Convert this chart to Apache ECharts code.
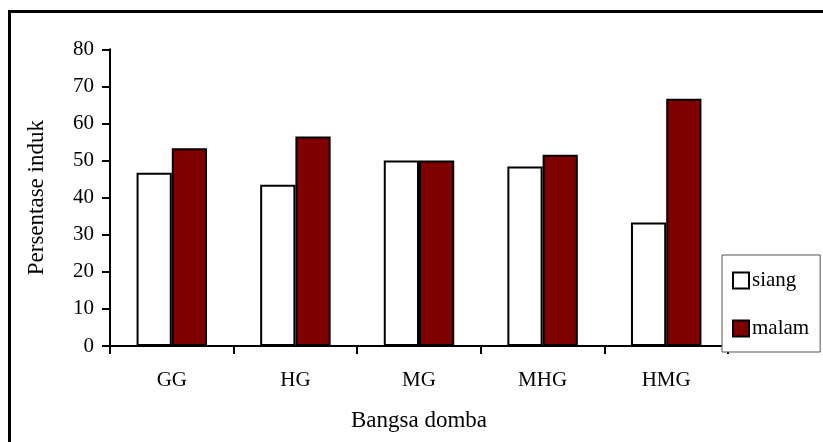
<!DOCTYPE html>
<html>
<head>
<meta charset="utf-8">
<script src="https://cdn.jsdelivr.net/npm/echarts@6/dist/echarts.min.js"></script>
<style>
  html, body { margin: 0; padding: 0; background: #fff; }
  #chart { width: 823px; height: 442px; }
</style>
</head>
<body>
<div id="chart"></div>
<script>
// Breeds on the x axis
const categories = ['GG', 'HG', 'MG', 'MHG', 'HMG'];
// Percentage of ewes, daytime vs night
const siang = [46.7, 43.5, 50.0, 48.4, 33.3];
const malam = [53.3, 56.5, 50.0, 51.6, 66.7];
const seriesNames = ['siang', 'malam'];

const FONT = '"Liberation Serif", "Times New Roman", serif';

const chart = echarts.init(document.getElementById('chart'), null, { renderer: 'canvas' });

chart.setOption({
  backgroundColor: '#ffffff',
  animation: false,
  textStyle: { fontFamily: FONT, color: '#000' },
  graphic: [{
    type: 'rect',
    shape: { x: 9.5, y: 11.5, width: 1200, height: 1200 },
    style: { fill: 'none', stroke: '#000', lineWidth: 3 },
    silent: true,
    z: 0
  }],
  grid: {
    left: 110, right: 95, top: 49.3, bottom: 96,
    containLabel: false,
    outerBoundsMode: 'none'
  },
  legend: {
    orient: 'vertical',
    left: 722, top: 255,
    padding: [15, 11, 13, 10],
    itemGap: 27,
    itemWidth: 16, itemHeight: 16,
    icon: 'rect',
    borderColor: '#555',
    borderWidth: 1,
    backgroundColor: '#fff',
    itemStyle: { borderColor: '#000', borderWidth: 2 },
    textStyle: { fontFamily: FONT, fontSize: 21, color: '#000', padding: [0, 0, 0, -2] },
    data: seriesNames
  },
  xAxis: {
    type: 'category',
    data: categories,
    name: 'Bangsa domba',
    nameLocation: 'middle',
    nameGap: 63,
    nameTextStyle: { fontFamily: FONT, fontSize: 23, color: '#000' },
    axisLine: { lineStyle: { color: '#000', width: 2 } },
    axisTick: { show: true, length: 8, lineStyle: { color: '#000', width: 2 } },
    axisLabel: { fontFamily: FONT, fontSize: 21, color: '#000', margin: 24 },
    splitLine: { show: false }
  },
  yAxis: {
    type: 'value',
    min: 0, max: 80, interval: 10,
    name: 'Persentase induk',
    nameLocation: 'middle',
    nameGap: 62,
    nameTextStyle: { fontFamily: FONT, fontSize: 23, color: '#000' },
    axisLine: { show: true, lineStyle: { color: '#000', width: 2 } },
    axisTick: { show: true, length: 8, lineStyle: { color: '#000', width: 2 } },
    axisLabel: { fontFamily: FONT, fontSize: 21, color: '#000', margin: 16 },
    splitLine: { show: false }
  },
  series: [
    {
      name: 'siang',
      type: 'bar',
      data: siang,
      barGap: '0%',
      barCategoryGap: '43%',
      itemStyle: { color: '#ffffff', borderColor: '#000', borderWidth: 2 },
      z: 2
    },
    {
      name: 'malam',
      type: 'bar',
      data: malam,
      barGap: '0%',
      barCategoryGap: '43%',
      itemStyle: { color: '#800000', borderColor: '#000', borderWidth: 2 },
      z: 2
    }
  ]
});
</script>
</body>
</html>
